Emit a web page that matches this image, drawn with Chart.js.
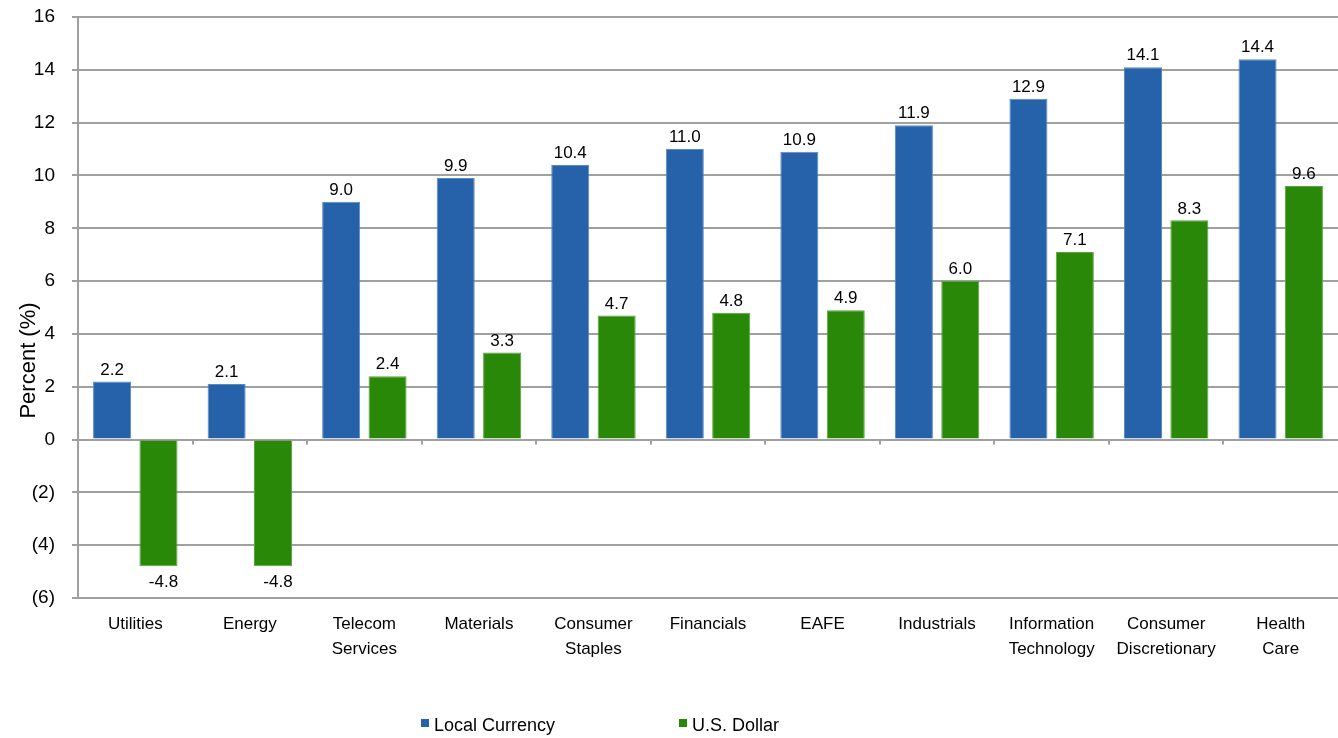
<!DOCTYPE html>
<html>
<head>
<meta charset="utf-8">
<script src="https://cdn.jsdelivr.net/npm/chart.js@4/dist/chart.umd.min.js"></script>
<style>
  html, body { margin: 0; padding: 0; background: #fff; }
  #wrap { position: relative; width: 1338px; height: 738px; }
  #legend { position: absolute; top: 715px; left: 0; width: 1200px; text-align: center;
            font-family: "Liberation Sans", Arial, sans-serif; font-size: 18px; color: #000; }
  #legend span.item { display: inline-block; margin: 0 62px; }
  #legend span.box { display: inline-block; width: 8px; height: 8px; margin-right: 5px; vertical-align: 4px; }
</style>
</head>
<body>
<div id="wrap">
  <canvas id="myChart" width="1338" height="738"></canvas>
  <div id="legend"></div>
</div>
<script>
// categories and series
var sectors = [["Utilities"], ["Energy"], ["Telecom", "Services"], ["Materials"], ["Consumer", "Staples"],
               ["Financials"], ["EAFE"], ["Industrials"], ["Information", "Technology"],
               ["Consumer", "Discretionary"], ["Health", "Care"]];
var localCurrency = [2.2, 2.1, 9.0, 9.9, 10.4, 11.0, 10.9, 11.9, 12.9, 14.1, 14.4];
var usDollar = [-4.8, -4.8, 2.4, 3.3, 4.7, 4.8, 4.9, 6.0, 7.1, 8.3, 9.6];
var seriesNames = ["Local Currency", "U.S. Dollar"];
var seriesColors = ["#2662a9", "#2a8808"];
var yTicks = [-6, -4, -2, 0, 2, 4, 6, 8, 10, 12, 14, 16];
var yTitle = "Percent (%)";

var font = "'Liberation Sans', Arial, sans-serif";

// value labels above (or below) each bar
var valueLabels = {
  id: 'valueLabels',
  afterDatasetsDraw: function(chart) {
    var ctx = chart.ctx;
    ctx.save();
    ctx.font = '17px ' + font;
    ctx.fillStyle = '#000';
    ctx.textAlign = 'center';
    chart.data.datasets.forEach(function(ds, i) {
      chart.getDatasetMeta(i).data.forEach(function(bar, j) {
        var v = ds.data[j];
        if (v >= 0) {
          ctx.textBaseline = 'bottom';
          ctx.fillText(v.toFixed(1), bar.x, bar.y - 3);
        } else {
          ctx.textBaseline = 'top';
          ctx.fillText(v.toFixed(1), bar.x + 5, bar.y + 8);
        }
      });
    });
    ctx.restore();
  }
};

// small tick marks on the zero line between categories, and the axis title
var extras = {
  id: 'extras',
  afterDraw: function(chart) {
    var ctx = chart.ctx, x = chart.scales.x, y0 = chart.scales.y.getPixelForValue(0);
    var step = (x.right - x.left) / sectors.length;
    ctx.save();
    ctx.strokeStyle = '#a0a0a0';
    ctx.lineWidth = 2;
    for (var i = 1; i < sectors.length; i++) {
      var px = Math.round(x.left + step * i);
      ctx.beginPath();
      ctx.moveTo(px, y0);
      ctx.lineTo(px, y0 + 5);
      ctx.stroke();
    }
    // y axis title, sits a bit below the middle like the original
    var area = chart.chartArea;
    ctx.translate(29, (area.top + area.bottom) / 2 + 53);
    ctx.rotate(-Math.PI / 2);
    ctx.font = '22px ' + font;
    ctx.fillStyle = '#000';
    ctx.textAlign = 'center';
    ctx.textBaseline = 'middle';
    ctx.fillText(yTitle, 0, 0);
    ctx.restore();
  }
};

var ctx = document.getElementById('myChart').getContext('2d');
var myChart = new Chart(ctx, {
  type: 'bar',
  data: {
    labels: sectors,
    datasets: [{
      label: seriesNames[0],
      data: localCurrency,
      backgroundColor: seriesColors[0],
      borderColor: '#5a88c4',
      borderWidth: 1,
      categoryPercentage: 0.81,
      barPercentage: 0.82
    }, {
      label: seriesNames[1],
      data: usDollar,
      backgroundColor: seriesColors[1],
      borderColor: '#5aa540',
      borderWidth: 1,
      categoryPercentage: 0.81,
      barPercentage: 0.82
    }]
  },
  options: {
    responsive: false,
    animation: false,
    layout: { padding: { top: 17, right: 0, bottom: 0, left: 0 } },
    plugins: {
      legend: { display: false },
      tooltip: { enabled: false }
    },
    scales: {
      x: {
        grid: { display: false, drawTicks: false },
        border: { display: false },
        ticks: {
          color: '#000',
          font: { family: font, size: 17, lineHeight: 1.47 },
          padding: 14,
          maxRotation: 0,
          autoSkip: false
        },
        afterFit: function(scale) { scale.height = 140; }
      },
      y: {
        min: -6,
        max: 16,
        afterBuildTicks: function(scale) {
          scale.ticks = yTicks.map(function(v) { return { value: v }; });
        },
        grid: {
          color: '#a0a0a0',
          lineWidth: 2,
          tickLength: 6
        },
        border: { color: '#a0a0a0', width: 2 },
        ticks: {
          color: '#000',
          font: { family: font, size: 19 },
          padding: 17,
          callback: function(v) { return v < 0 ? '(' + Math.abs(v) + ')' : String(v); }
        },
        afterFit: function(scale) {
          scale.width = 78;
          // tick padding would otherwise push the plot top down
          scale.paddingTop = 0;
          scale.paddingBottom = 0;
        }
      }
    }
  },
  plugins: [valueLabels, extras]
});

// legend below the chart
var legend = document.getElementById('legend');
seriesNames.forEach(function(name, i) {
  var item = document.createElement('span');
  item.className = 'item';
  var box = document.createElement('span');
  box.className = 'box';
  box.style.background = seriesColors[i];
  item.appendChild(box);
  item.appendChild(document.createTextNode(name));
  legend.appendChild(item);
});
</script>
</body>
</html>
